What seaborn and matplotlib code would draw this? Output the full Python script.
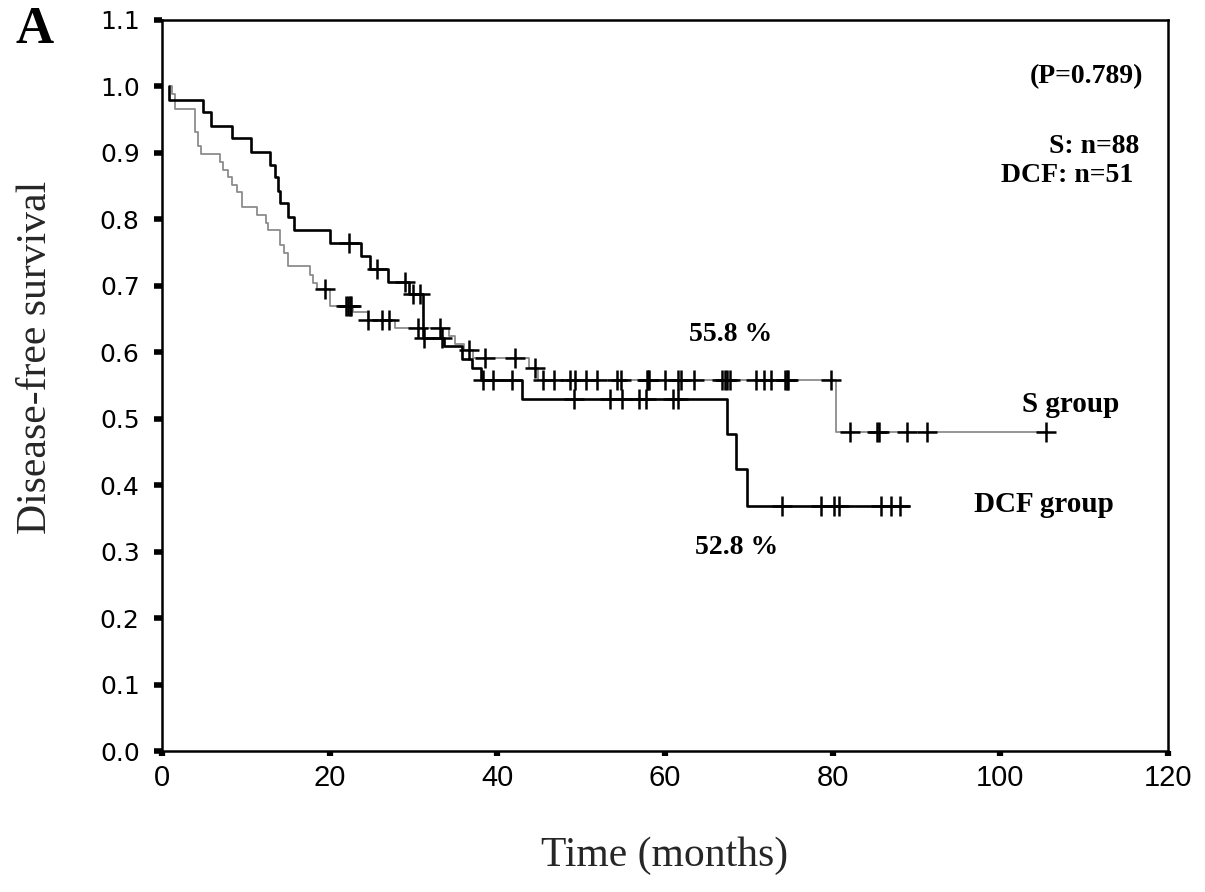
import numpy as np
import pandas as pd
import matplotlib
matplotlib.use("Agg")
import matplotlib.pyplot as plt
import seaborn as sns

# ---- data ----
# DCF group: Kaplan-Meier step points (months, survival)
dcf_time = [0.8, 0.8, 4.9, 5.9, 8.4, 10.6, 12.9, 13.5, 13.9, 14.1, 15.0, 15.7, 20.0, 23.8, 24.8,
            27.0, 29.5, 31.1, 33.6, 35.8, 37.0, 38.1, 43.0, 67.4, 68.5, 69.8, 89.1]
dcf_surv = [1.0, 0.980, 0.961, 0.941, 0.922, 0.902, 0.882, 0.863, 0.843, 0.824, 0.804, 0.784, 0.765, 0.745, 0.725,
            0.706, 0.688, 0.622, 0.609, 0.590, 0.577, 0.559, 0.529, 0.477, 0.424, 0.368, 0.368]
# S group step points
s_time = [0.95, 1.2, 1.55, 4.0, 4.3, 4.6, 6.9, 7.3, 7.9, 8.4, 9.0, 9.6, 11.3, 12.4, 12.6, 14.1, 14.6, 15.0,
          17.6, 18.0, 18.5, 20.0, 22.8, 24.6, 27.8, 34.2, 35.0, 36.0, 37.1, 43.8, 44.9, 80.4, 105.4]
s_surv = [1.0, 0.989, 0.966, 0.932, 0.911, 0.898, 0.886, 0.875, 0.864, 0.852, 0.841, 0.818, 0.807, 0.795, 0.784,
          0.761, 0.750, 0.730, 0.716, 0.705, 0.695, 0.670, 0.660, 0.649, 0.636, 0.624, 0.613, 0.603, 0.592,
          0.577, 0.558, 0.480, 0.480]
# censored observations (months)
s_censor = [19.4, 22.0, 22.2, 22.4, 22.6, 24.6, 26.2, 27.1, 30.5, 33.2, 36.6, 38.5, 42.1, 44.5, 45.5, 46.8,
            48.7, 49.3, 50.6, 51.9, 54.3, 54.7, 57.8, 58.0, 58.1, 60.0, 61.6, 61.9, 63.5, 66.8, 67.2, 67.4,
            67.8, 70.8, 71.8, 72.7, 74.3, 74.5, 74.7, 79.8, 82.1, 85.3, 85.5, 88.9, 91.2, 105.4]
dcf_censor = [22.3, 25.7, 29.0, 29.9, 30.8, 31.3, 33.4, 38.3, 39.5, 41.8, 49.1, 53.4, 54.9, 56.9, 57.7,
              60.9, 61.5, 73.9, 78.6, 80.2, 80.7, 85.8, 86.9, 88.0]

y_ticks = [0.0, 0.1, 0.2, 0.3, 0.4, 0.5, 0.6, 0.7, 0.8, 0.9, 1.0, 1.1]
x_ticks = [0, 20, 40, 60, 80, 100, 120]


def surv_at(times, steps_t, steps_s):
    idx = np.searchsorted(steps_t, times, side="right") - 1
    return np.asarray(steps_s)[np.clip(idx, 0, None)]


dcf_df = pd.DataFrame({"t": dcf_time, "s": dcf_surv})
s_df = pd.DataFrame({"t": s_time, "s": s_surv})
s_c_df = pd.DataFrame({"t": s_censor, "s": surv_at(s_censor, s_time, s_surv)})
d_c_df = pd.DataFrame({"t": dcf_censor, "s": surv_at(dcf_censor, dcf_time, dcf_surv)})

sns.set_theme(style="white")
plt.rcParams["font.family"] = ["Liberation Sans", "DejaVu Sans"]

fig = plt.figure(figsize=(12.05, 8.92), dpi=100)
ax = fig.add_axes([0.1344, 0.158, 0.8349, 0.8196])

sns.lineplot(data=s_df, x="t", y="s", ax=ax, drawstyle="steps-post", estimator=None, sort=False,
             color="#8c8c8c", linewidth=1.3, zorder=2)
sns.lineplot(data=dcf_df, x="t", y="s", ax=ax, drawstyle="steps-post", estimator=None, sort=False,
             color="black", linewidth=1.9, zorder=3)
sns.scatterplot(data=s_c_df, x="t", y="s", ax=ax, marker="+", s=190, color="black",
                linewidth=1.8, zorder=4)
sns.scatterplot(data=d_c_df, x="t", y="s", ax=ax, marker="+", s=190, color="black",
                linewidth=1.8, zorder=4)

ax.set_xlim(0, 120)
ax.set_ylim(0, 1.1)
ax.set_xticks(x_ticks)
ax.set_yticks(y_ticks)
ax.set_yticklabels([f"{v:.1f}" for v in y_ticks], fontsize=18,
                   family=["DejaVu Sans"])
ax.set_xticklabels([str(v) for v in x_ticks], fontsize=21,
                   family=["Liberation Sans", "DejaVu Sans"])
ax.tick_params(axis="y", which="major", direction="out", length=6, width=4,
               color="black", labelcolor="black", left=True, pad=10)
ax.tick_params(axis="x", which="major", direction="out", length=3.5, width=4.5,
               color="black", labelcolor="black", bottom=True, pad=6)
for sp in ax.spines.values():
    sp.set_visible(True)
    sp.set_color("black")
    sp.set_linewidth(1.8)

serif = ["Liberation Serif", "DejaVu Serif"]
ax.set_xlabel("Time (months)", fontsize=30, family=serif)
ax.xaxis.set_label_coords(0.5, -0.117)
ax.set_ylabel("Disease-free survival", fontsize=30, family=serif)
ax.yaxis.set_label_coords(-0.106, 0.538)

serif_b = dict(family=serif, fontweight="bold", color="black")
ax.text(117.1, 1.015, "(P=0.789)", ha="right", va="center", fontsize=20, **serif_b)
ax.text(116.6, 0.909, "S: n=88", ha="right", va="center", fontsize=20, **serif_b)
ax.text(115.9, 0.866, "DCF: n=51", ha="right", va="center", fontsize=20, **serif_b)
ax.text(67.8, 0.627, "55.8 %", ha="center", va="center", fontsize=20, **serif_b)
ax.text(68.6, 0.306, "52.8 %", ha="center", va="center", fontsize=20, **serif_b)
ax.text(102.6, 0.522, "S group", ha="left", va="center", fontsize=21, **serif_b)
ax.text(96.8, 0.371, "DCF group", ha="left", va="center", fontsize=21, **serif_b)

fig.text(0.0125, 0.966, "A", ha="left", va="center", fontsize=38, **serif_b)

fig.savefig("out.png", dpi=100, facecolor="white")
